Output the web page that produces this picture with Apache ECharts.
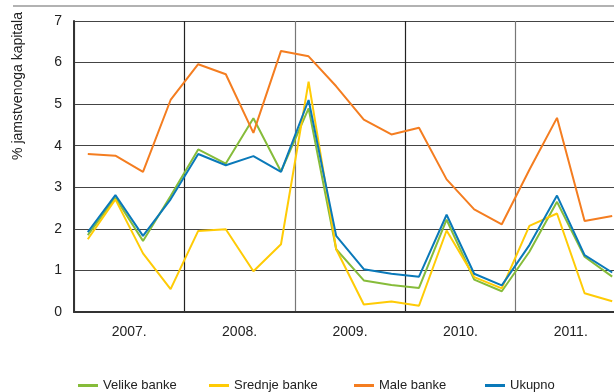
<!DOCTYPE html>
<html>
<head>
<meta charset="utf-8">
<script src="https://cdn.jsdelivr.net/npm/echarts@6/dist/echarts.min.js"></script>
<style>
  html, body { margin: 0; padding: 0; background: #fff; }
  #chart { width: 614px; height: 392px; }
</style>
</head>
<body>
<div id="chart"></div>
<script>
// quarters 2007 Q1 .. 2011 Q4
var quarters = ['Q1 07','Q2 07','Q3 07','Q4 07','Q1 08','Q2 08','Q3 08','Q4 08',
                'Q1 09','Q2 09','Q3 09','Q4 09','Q1 10','Q2 10','Q3 10','Q4 10',
                'Q1 11','Q2 11','Q3 11','Q4 11'];
var years = ['2007.', '2008.', '2009.', '2010.', '2011.'];

var velike  = [1.85, 2.75, 1.71, 2.79, 3.91, 3.57, 4.66, 3.38, 4.90, 1.51, 0.76, 0.65, 0.58, 2.22, 0.78, 0.50, 1.45, 2.65, 1.33, 0.85];
var srednje = [1.75, 2.71, 1.41, 0.55, 1.95, 1.99, 0.98, 1.63, 5.54, 1.51, 0.18, 0.25, 0.15, 1.96, 0.84, 0.57, 2.07, 2.37, 0.45, 0.26];
var male    = [3.80, 3.76, 3.37, 5.10, 5.96, 5.72, 4.31, 6.28, 6.15, 5.43, 4.63, 4.27, 4.43, 3.19, 2.47, 2.11, 3.42, 4.67, 2.19, 2.31];
var ukupno  = [1.92, 2.81, 1.83, 2.71, 3.80, 3.53, 3.75, 3.37, 5.10, 1.83, 1.03, 0.92, 0.85, 2.34, 0.92, 0.64, 1.61, 2.80, 1.37, 0.95];

var names = ['Velike banke', 'Srednje banke', 'Male banke', 'Ukupno'];
var colors = ['#86bc3a', '#ffcb05', '#f47d20', '#0a79b9'];
var font = '"Liberation Sans", Arial, sans-serif';

// one legend per item so each sits where the original has it
var legendLeft = [73, 204, 349, 480];
var legends = names.map(function (n, i) {
  return {
    data: [n],
    left: legendLeft[i],
    top: 374,
    itemWidth: 20,
    itemHeight: 3,
    icon: 'rect',
    itemGap: 0,
    textStyle: { fontFamily: font, fontSize: 13, color: '#222' }
  };
});

var seriesData = [velike, srednje, male, ukupno];

var option = {
  animation: false,
  color: colors,
  textStyle: { fontFamily: font },
  // plot runs past the right edge, last quarter is cut off like the original
  grid: { left: 74, top: 21, width: 552, bottom: 80, outerBoundsMode: 'none', containLabel: false },
  legend: legends,
  graphic: [
    {
      type: 'line',
      shape: { x1: 13, y1: 6, x2: 614, y2: 6 },
      style: { stroke: '#999', lineWidth: 1.5 }
    },
    {
      type: 'text',
      x: 18, y: 86,
      rotation: Math.PI / 2,
      style: {
        text: '% jamstvenoga kapitala',
        fontFamily: font, fontSize: 14, fill: '#222',
        align: 'center', verticalAlign: 'middle'
      }
    }
  ],
  xAxis: [
    {
      type: 'category',
      data: quarters,
      boundaryGap: true,
      axisLine: { show: true, lineStyle: { color: '#333', width: 2 } },
      axisTick: { show: false },
      axisLabel: { show: false },
      splitLine: { show: false }
    },
    {
      type: 'category',
      data: years,
      position: 'bottom',
      boundaryGap: true,
      axisLine: { show: false },
      axisTick: { show: false },
      axisLabel: { margin: 13, fontSize: 14, color: '#222', fontFamily: font },
      splitLine: { show: true, lineStyle: { color: ['#777', '#222'], width: 1.2 } }
    }
  ],
  yAxis: {
    type: 'value',
    min: 0, max: 7, interval: 1,
    axisLine: { show: true, lineStyle: { color: '#333', width: 2 } },
    axisTick: { show: false },
    axisLabel: { margin: 12, fontSize: 14, color: '#222', fontFamily: font },
    splitLine: { show: true, lineStyle: { color: '#444', width: 1.2 } }
  },
  series: seriesData.map(function (d, i) {
    return {
      name: names[i],
      type: 'line',
      xAxisIndex: 0,
      data: d,
      symbol: 'none',
      lineStyle: { width: 2, color: colors[i] },
      itemStyle: { color: colors[i] }
    };
  })
};

var chart = echarts.init(document.getElementById('chart'));
chart.setOption(option);
</script>
</body>
</html>
